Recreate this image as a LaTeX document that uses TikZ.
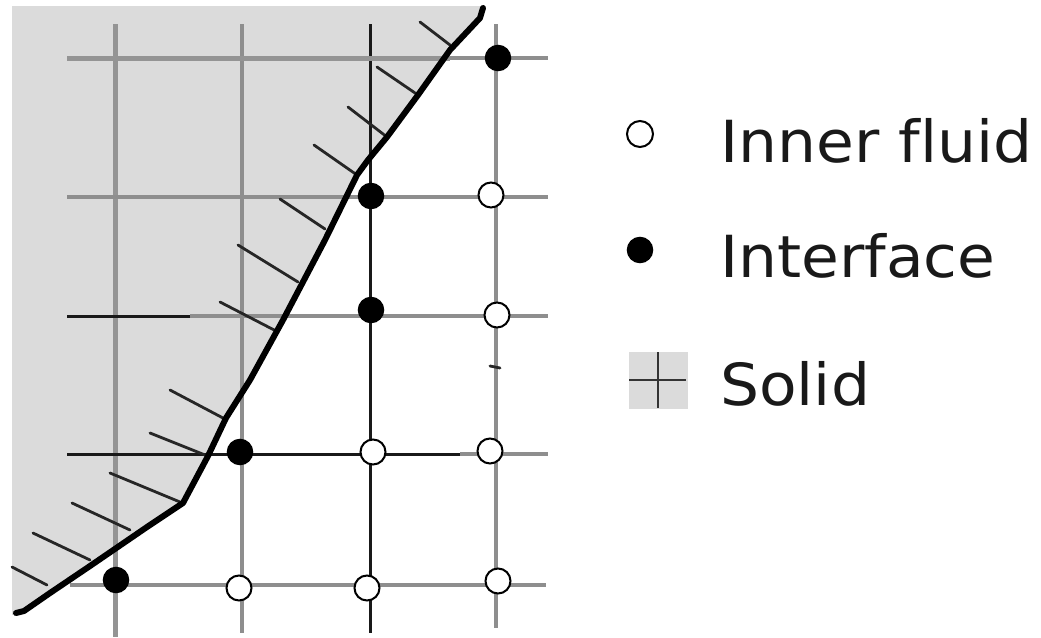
\documentclass[tikz,border=0pt]{standalone}
\usepackage{fontspec}
\setmainfont[Ligatures=NoCommon,FakeStretch=1.06]{DejaVu Sans}
\definecolor{solidc}{HTML}{DBDBDB}
\definecolor{gridg}{HTML}{8E8E8E}
\tikzset{
 x=1pt,y=-1pt,
 gridl/.style={draw=gridg,line width=3.2pt},
 gridt/.style={draw=gridg!95,line width=5pt},
 gridk/.style={draw=black!90,line width=3pt},
 hatch/.style={draw=black!85,line width=2.8pt,line cap=round},
 wall/.style={draw=black,line width=6pt,line cap=round,line join=round},
 fluid/.style={circle,draw=black,fill=white,line width=2pt,minimum size=25pt,inner sep=0pt},
 iface/.style={circle,draw=black,fill=black,minimum size=25pt,inner sep=0pt,line width=1.5pt},
 lab/.style={anchor=base west,font=\fontsize{58}{58}\selectfont,inner sep=0pt,text=black!90},
}
\begin{document}
\begin{tikzpicture}
\useasboundingbox (0,0) rectangle (1041,637);
\fill[white] (0,0) rectangle (1041,637);
\fill[solidc] (12,6) -- (484,6) -- (480,18) -- (450,50) -- (418,95) -- (387,137) -- (368,160) -- (357,175) -- (325,240) -- (283,320) -- (250,380) -- (226,418) -- (208,456) -- (183,503) -- (147,527) -- (90,566) -- (50,593) -- (24,611) -- (12,615) -- cycle;
% vertical grid
\path[gridt] (115,24) -- (115,637);
\path[gridl] (242,24) -- (242,633);
\path[gridk] (370,24) -- (370,633);
\path[gridl] (496,24) -- (496,628);
% horizontal grid
\path[gridt] (67,58) -- (450,58);
\path[gridl] (450,58) -- (548,58);
\path[gridl] (67,197) -- (548,197);
\path[gridk] (67,316) -- (190,316);
\path[gridl] (190,316) -- (548,316);
\path[gridk] (67,454) -- (460,454);
\path[gridl] (460,454) -- (548,454);
\path[gridl] (70,585) -- (546,585);
\path[hatch] (490,366) -- (500,368);
% hatch
\foreach \a/\b/\c/\d in {420/22/450/45, 377/67/418/95, 348/107/387/137, 314/145/357/175, 280/199/325/229, 238/245/298/282, 220/302/278/332, 170/390/223/418, 150/433/205/455, 110/473/180/502, 72/503/130/530, 33/533/90/560, 12/567/47/585}
 {\path[hatch] (\a,\b) -- (\c,\d);}
% wall
\path[wall] (483,8) -- (480,18) -- (450,50) -- (418,95) -- (387,137) -- (368,160) -- (357,175) -- (325,240) -- (283,320) -- (250,380) -- (226,418) -- (208,456) -- (183,503) -- (147,527) -- (90,566) -- (50,593) -- (24,611) -- (16,613);
% nodes
\node[iface] (n1) at (498,58) {};
\node[iface] (n2) at (371,196) {};
\node[iface] (n3) at (371,310) {};
\node[iface] (n4) at (240,452) {};
\node[iface] (n5) at (116,580) {};
\node[fluid] (f1) at (491,195) {};
\node[fluid] (f2) at (497,315) {};
\node[fluid] (f3) at (373,452) {};
\node[fluid] (f4) at (490,451) {};
\node[fluid] (f5) at (239,588) {};
\node[fluid] (f6) at (367,588) {};
\node[fluid] (f7) at (498,581) {};
% legend
\node[fluid,minimum size=26pt] (lf) at (640,134) {};
\node[iface,minimum size=25pt] (li) at (640,250) {};
\fill[solidc] (629,352) rectangle (688,409);
\path[draw=black!80,line width=2pt] (629,380) -- (686,380);
\path[draw=black!80,line width=2pt] (658,352) -- (658,408);
\node[lab] (t1) at (720,162) {Inner fluid};
\node[lab] (t2) at (720,277) {Interface};
\node[lab] (t3) at (720,405) {Solid};
\end{tikzpicture}
\end{document}
